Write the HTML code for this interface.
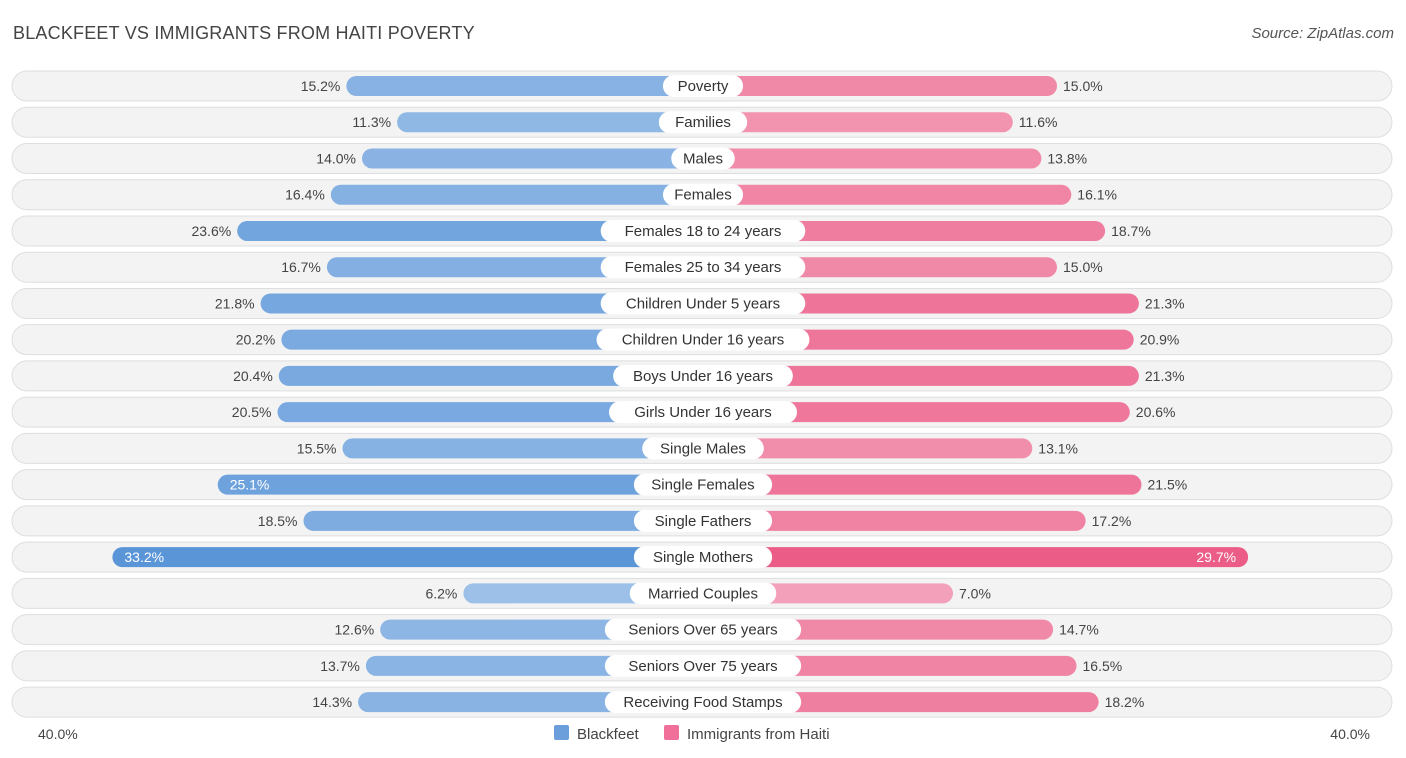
<!DOCTYPE html>
<html><head><meta charset="utf-8"><style>
body{margin:0;width:1406px;height:758px;background:#fff;font-family:"Liberation Sans",sans-serif;overflow:hidden;position:relative}
.t{position:absolute;font-size:14px;color:#444}
</style></head><body>
<div class="t" style="left:13px;top:23px;font-size:18px;color:#444;letter-spacing:0.2px">BLACKFEET VS IMMIGRANTS FROM HAITI POVERTY</div>
<div class="t" style="right:12px;top:25px;font-style:italic;color:#555;font-size:15px">Source: ZipAtlas.com</div>
<svg id="chart" width="1406" height="758" style="position:absolute;left:0;top:0"></svg>
<script>
const categories=["Poverty","Families","Males","Females","Females 18 to 24 years","Females 25 to 34 years","Children Under 5 years","Children Under 16 years","Boys Under 16 years","Girls Under 16 years","Single Males","Single Females","Single Fathers","Single Mothers","Married Couples","Seniors Over 65 years","Seniors Over 75 years","Receiving Food Stamps"];
const blackfeet=[15.2,11.3,14.0,16.4,23.6,16.7,21.8,20.2,20.4,20.5,15.5,25.1,18.5,33.2,6.2,12.6,13.7,14.3];
const haiti=[15.0,11.6,13.8,16.1,18.7,15.0,21.3,20.9,21.3,20.6,13.1,21.5,17.2,29.7,7.0,14.7,16.5,18.2];
const axisTicks=["40.0%","40.0%"];
const NS="http://www.w3.org/2000/svg";
const svg=document.getElementById('chart');
const cx=703,off=159,k=13.0,y0=86,dy=36.24;
function xL(v){return cx-off-v*k;}
function xR(v){return cx+off+v*k;}
function yRow(i){return y0+i*dy;}
function mk(t,a){const e=document.createElementNS(NS,t);for(const n in a)e.setAttribute(n,a[n]);svg.appendChild(e);return e;}
function blue(v){const t=Math.min(1,v/33.2);const l=80-t*20;return `hsl(212,62%,${l}%)`;}
function pink(v){const t=Math.min(1,v/29.7);const l=84-t*20;return `hsl(342,78%,${l}%)`;}
categories.forEach((c,i)=>{
  const y=yRow(i);
  const bg=mk('rect',{x:12,y:y-15,width:1380,height:30,rx:15,fill:'#f3f3f3',stroke:'#dedede','stroke-width':1});
  
  
  const b=blackfeet[i],h=haiti[i];
  const lb=mk('rect',{x:xL(b),y:y-10,width:cx-xL(b),height:20,rx:10,fill:blue(b)});
  
  
  const rb=mk('rect',{x:cx,y:y-10,width:xR(h)-cx,height:20,rx:10,fill:pink(h)});
  
  
  const inL=b>24,inR=h>24;
  const tl=mk('text',{x:inL?xL(b)+12:xL(b)-6,y:y+5,'font-size':14,'text-anchor':inL?'start':'end',fill:inL?'#fff':'#444'});
  tl.textContent=b.toFixed(1)+'%';
  
  
  const tr=mk('text',{x:inR?xR(h)-12:xR(h)+6,y:y+5,'font-size':14,'text-anchor':inR?'end':'start',fill:inR?'#fff':'#444'});
  tr.textContent=h.toFixed(1)+'%';
  
  
  const w=c.length*8.3+22;
  const pill=mk('rect',{x:cx-w/2,y:y-11,width:w,height:22,rx:11,fill:'#fff'});
  
  
  const ct=mk('text',{x:cx,y:y+5,'font-size':15,'text-anchor':'middle',fill:'#333'});
  ct.textContent=c;
  
  
});
const a1=mk('text',{x:38,y:739,'font-size':14,fill:'#444'});a1.textContent=axisTicks[0];


const a2=mk('text',{x:1370,y:739,'font-size':14,fill:'#444','text-anchor':'end'});a2.textContent=axisTicks[1];


const s1=mk('rect',{x:554,y:725,width:15,height:15,rx:2,fill:'#6a9fdc'});


const l1=mk('text',{x:577,y:739,'font-size':15,fill:'#444'});l1.textContent='Blackfeet';


const s2=mk('rect',{x:664,y:725,width:15,height:15,rx:2,fill:'#f07099'});


const l2=mk('text',{x:687,y:739,'font-size':15,fill:'#444'});l2.textContent='Immigrants from Haiti';


</script>
</body></html>
